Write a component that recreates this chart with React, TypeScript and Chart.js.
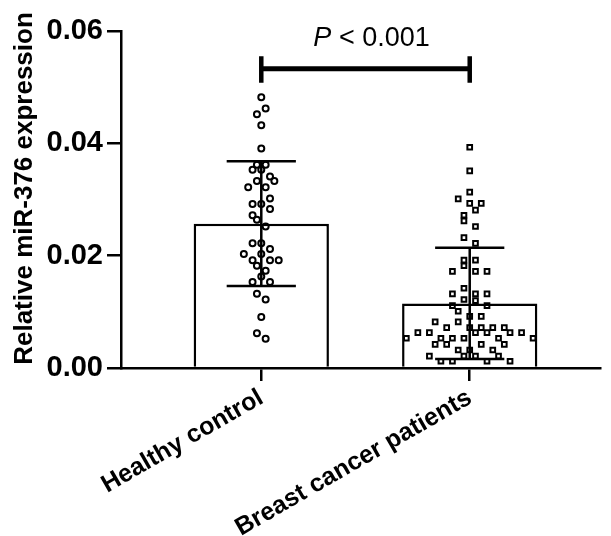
import React, { useEffect, useRef } from 'react';
import { Chart, registerables } from 'chart.js';

Chart.register(...registerables);

// ---- data ----
const categories = ['Healthy control', 'Breast cancer patients'];
const barMean = [0.0257, 0.0115];
const barSd = [0.0111, 0.0099];
const yTicks = [0, 0.02, 0.04, 0.06];
const yTitle = 'Relative miR-376 expression';
const pItalic = 'P';
const pRest = ' < 0.001';

const healthyValues = [
  0.0482, 0.0462, 0.0452, 0.0432, 0.0391, 0.0362, 0.0362, 0.0353, 0.0353, 0.0341,
  0.0333, 0.0333, 0.0322, 0.0322, 0.0302, 0.0292, 0.0292, 0.0283, 0.0272, 0.0264,
  0.0252, 0.0222, 0.0222, 0.0212, 0.0203, 0.0203, 0.0192, 0.0192, 0.0192, 0.0182,
  0.0173, 0.0163, 0.0153, 0.0153, 0.0132, 0.0122, 0.0091, 0.0062, 0.0052,
];
const healthySlots = [
  0, 1, -1, 0, 0, -1, 1, -2, 0, 2,
  -1, 3, -3, 1, 2, -2, 0, 2, -2, -1,
  1, -2, 0, 2, -4, 0, -2, 2, 4, -1,
  1, 0, -2, 2, -1, 1, 0, -1, 1,
];

const breastValues = [
  0.0393, 0.0351, 0.0313, 0.0301, 0.0293, 0.0293, 0.0281, 0.0272, 0.0262, 0.0252,
  0.0232, 0.0222, 0.0192, 0.0192, 0.0182, 0.0172, 0.0172, 0.0172, 0.0142, 0.0132,
  0.0132, 0.0132, 0.0122, 0.0120, 0.0111, 0.0111, 0.0101, 0.0092, 0.0092, 0.0082,
  0.0082, 0.0072, 0.0072, 0.0072, 0.0072, 0.0072, 0.0063, 0.0063, 0.0063, 0.0063,
  0.0063, 0.0063, 0.0053, 0.0053, 0.0053, 0.0053, 0.0053, 0.0053, 0.0042, 0.0042,
  0.0042, 0.0042, 0.0032, 0.0032, 0.0032, 0.0021, 0.0021, 0.0021, 0.0021, 0.0012,
  0.0012, 0.0012, 0.0012,
];
const breastSlots = [
  0, 0, 0, -2, 0, 2, 1, -1, -1, 1,
  -1, 1, -1, 1, -1, -3, 1, 3, -1, -3,
  1, 3, -1, 1, -3, 3, -2, 0, 2, -6,
  -2, -4, 0, 2, 4, 6, -9, -7, 1, 3,
  7, 9, -11, -5, -3, -1, 5, 11, -6, -4,
  2, 6, -2, 0, 4, -7, -1, 1, 5, -5,
  -3, 3, 7,
];

const FONT = '"Liberation Sans", Arial, Helvetica, sans-serif';
const BLACK = '#000000';

export default function App() {
  const ref = useRef<HTMLCanvasElement | null>(null);

  useEffect(() => {
    const canvas = ref.current;
    if (!canvas) return;

    const hSlot = 4.35 / 208;
    const bSlot = 5.75 / 208;

    const overlay = {
      id: 'overlay',
      afterDatasetsDraw(chart: any) {
        const { ctx, scales } = chart;
        const xs = scales.x;
        const ys = scales.y;
        ctx.save();
        // error bars (mean ± SD)
        ctx.strokeStyle = BLACK;
        ctx.lineWidth = 2.5;
        ctx.lineCap = 'butt';
        barMean.forEach((m, i) => {
          const x = xs.getPixelForValue(i);
          const yT = ys.getPixelForValue(m + barSd[i]);
          const yB = ys.getPixelForValue(m - barSd[i]);
          const xl = xs.getPixelForValue(i - 0.166);
          const xr = xs.getPixelForValue(i + 0.166);
          ctx.beginPath();
          ctx.moveTo(x, yT);
          ctx.lineTo(x, yB);
          ctx.moveTo(xl, yT);
          ctx.lineTo(xr, yT);
          ctx.moveTo(xl, yB);
          ctx.lineTo(xr, yB);
          ctx.stroke();
        });
        // significance bracket
        const bx0 = xs.getPixelForValue(0);
        const bx1 = xs.getPixelForValue(1);
        const by = ys.getPixelForValue(0.0533);
        const byT = ys.getPixelForValue(0.0555);
        const byB = ys.getPixelForValue(0.0508);
        ctx.lineWidth = 5;
        ctx.beginPath();
        ctx.moveTo(bx0, by);
        ctx.lineTo(bx1, by);
        ctx.stroke();
        ctx.lineWidth = 4.5;
        ctx.beginPath();
        ctx.moveTo(bx0, byT);
        ctx.lineTo(bx0, byB);
        ctx.moveTo(bx1, byT);
        ctx.lineTo(bx1, byB);
        ctx.stroke();
        // P label
        ctx.fillStyle = BLACK;
        ctx.textBaseline = 'alphabetic';
        ctx.textAlign = 'left';
        const fs = 27;
        ctx.font = `italic ${fs}px ${FONT}`;
        const w1 = ctx.measureText(pItalic).width;
        ctx.font = `${fs}px ${FONT}`;
        const w2 = ctx.measureText(pRest).width;
        const cx = xs.getPixelForValue(0.529);
        const ty = ys.getPixelForValue(0.0573);
        const sx = cx - (w1 + w2) / 2;
        ctx.font = `italic ${fs}px ${FONT}`;
        ctx.fillText(pItalic, sx, ty);
        ctx.font = `${fs}px ${FONT}`;
        ctx.fillText(pRest, sx + w1, ty);
        // y axis title
        ctx.font = `bold 26px ${FONT}`;
        ctx.textAlign = 'center';
        ctx.translate(32, 188.5);
        ctx.rotate(-Math.PI / 2);
        ctx.fillText(yTitle, 0, 0);
        ctx.restore();
      },
    };

    const chart = new Chart(canvas, {
      type: 'bar',
      data: {
        datasets: [
          {
            type: 'bar',
            data: barMean.map((m, i) => ({ x: i, y: m })),
            backgroundColor: '#ffffff',
            borderColor: BLACK,
            borderWidth: 2.5,
            barPercentage: 0.649,
            categoryPercentage: 1,
            order: 3,
          } as any,
          {
            type: 'scatter',
            data: healthyValues.map((v, k) => ({ x: 0 + healthySlots[k] * hSlot, y: v })),
            pointStyle: 'circle',
            pointRadius: 3,
            pointBorderWidth: 2,
            pointBackgroundColor: 'rgba(255,255,255,0)',
            pointBorderColor: BLACK,
            order: 1,
          } as any,
          {
            type: 'scatter',
            data: breastValues.map((v, k) => ({ x: 1 + breastSlots[k] * bSlot, y: v })),
            pointStyle: 'rect',
            pointRadius: 3.3,
            pointBorderWidth: 2,
            pointBackgroundColor: 'rgba(255,255,255,0)',
            pointBorderColor: BLACK,
            order: 1,
          } as any,
        ],
      },
      options: {
        animation: false,
        responsive: false,
        events: [],
        layout: { padding: { top: 31, right: 11, left: 0, bottom: 0 } },
        plugins: { legend: { display: false }, tooltip: { enabled: false }, title: { display: false } },
        scales: {
          x: {
            type: 'linear',
            min: -0.673,
            max: 1.625,
            offset: false,
            afterBuildTicks: (s: any) => {
              s.ticks = categories.map((_, i) => ({ value: i }));
            },
            afterFit: (s: any) => {
              s.height = 168;
            },
            ticks: {
              callback: (v: any) => categories[Math.round(Number(v))] ?? '',
              autoSkip: false,
              minRotation: 30,
              maxRotation: 30,
              padding: 2,
              color: BLACK,
              font: { family: FONT, size: 25, weight: 'bold' },
            },
            grid: { offset: false, drawOnChartArea: false, drawTicks: true, tickLength: 13, color: BLACK, lineWidth: 2.5 },
            border: { display: true, color: BLACK, width: 2.5 },
          },
          y: {
            type: 'linear',
            min: 0,
            max: 0.06,
            afterBuildTicks: (s: any) => {
              s.ticks = yTicks.map((v) => ({ value: v }));
            },
            afterFit: (s: any) => {
              s.width = 121;
            },
            ticks: {
              callback: (v: any) => Number(v).toFixed(2),
              padding: 4,
              color: BLACK,
              font: { family: FONT, size: 29, weight: 'bold' },
            },
            grid: { drawOnChartArea: false, drawTicks: true, tickLength: 14, color: BLACK, lineWidth: 2.5 },
            border: { display: true, color: BLACK, width: 2.5 },
          },
        },
      } as any,
      plugins: [overlay],
    });

    return () => chart.destroy();
  }, []);

  return (
    <div style={{ position: 'absolute', left: 0, top: 0, width: 611, height: 536, background: '#ffffff' }}>
      <canvas ref={ref} width={611} height={536} style={{ display: 'block', width: 611, height: 536 }} />
    </div>
  );
}
